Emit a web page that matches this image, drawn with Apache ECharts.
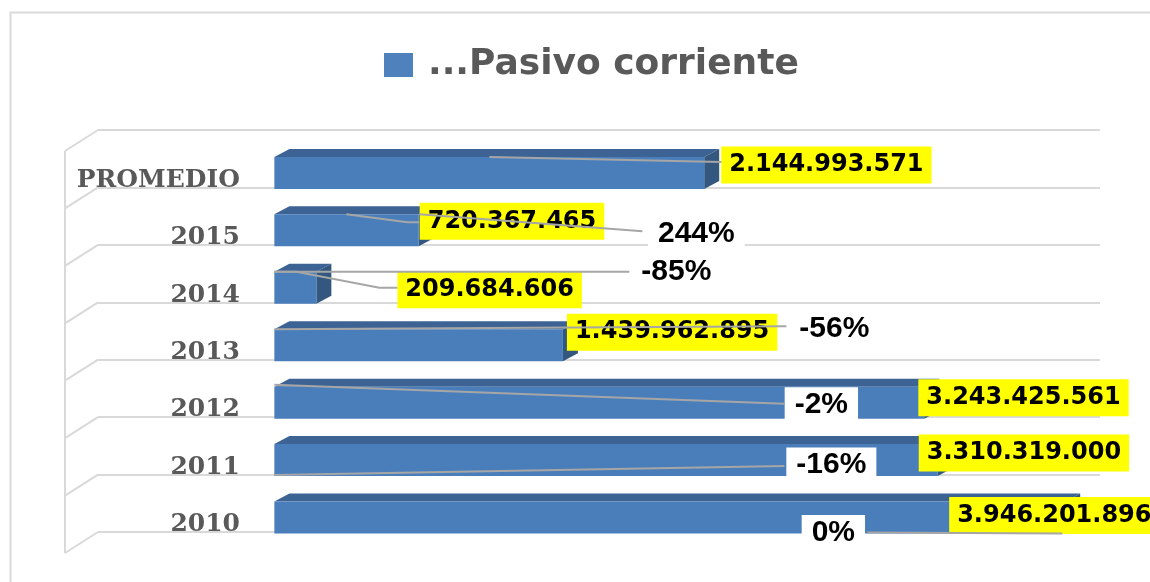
<!DOCTYPE html>
<html>
<head>
<meta charset="utf-8">
<script src="https://cdn.jsdelivr.net/npm/echarts@6/dist/echarts.min.js"></script>
<style>
  html, body { margin: 0; padding: 0; background: #fff; }
  #chart { width: 1150px; height: 582px; }
</style>
</head>
<body>
<div id="chart"></div>
<script>
// data, bottom row first
const categories = ['2010', '2011', '2012', '2013', '2014', '2015', 'PROMEDIO'];
const pasivo = [3946201896, 3310319000, 3243425561, 1439962895, 209684606, 720367465, 2144993571];
const valueLabels = ['3.946.201.896', '3.310.319.000', '3.243.425.561', '1.439.962.895',
  '209.684.606', '720.367.465', '2.144.993.571'];
const changeLabels = ['0%', '-16%', '-2%', '-56%', '-85%', '244%', ''];

// label placement (px, relative to the bar's left edge / top of front face)
const labelPos = [
  { val: [-116, 14], pct: [559, 31], lines: [[[593, 31], [788, 32]]] },
  { val: [-19, 9], pct: [557, 21], lines: [[[0, 31], [510, 22]]] },
  { val: [-6, 11], pct: [547, 18], lines: [[[0, -2], [510, 17]]] },
  { val: [4, 3], pct: [560, 0], lines: [[[0, 0], [512, -3]]] },
  { val: [81, 18], pct: [402, 0], lines: [[[0, 0], [22, 0], [105, 16], [123, 16]], [[0, 0], [355, 0]]] },
  { val: [1, 7], pct: [422, 19], lines: [[[72, 0], [133, 8], [145, 8]], [[145, 0], [368, 17]]] },
  { val: [17, 8], pct: null, lines: [[[215, 0], [447, 5]]] }
];

const BAR_H = 32;
const DX = 15, DY = -8;

const chart = echarts.init(document.getElementById('chart'));

function renderBar(params, api) {
  const i = api.value(0);
  const v = api.value(1);
  const base = api.coord([0, i]);
  const end = api.coord([v, i]);
  const band = api.size([0, 1])[1];
  const bottom = base[1] + band / 2 + 1.5;
  const top = bottom - BAR_H;
  const x0 = base[0], x1 = end[0];
  const pos = labelPos[i];
  const children = [
    { type: 'polygon', shape: { points: [[x0, top], [x0 + DX, top + DY], [x1 + DX, top + DY], [x1, top]] },
      style: { fill: '#3C6393' } },
    { type: 'polygon', shape: { points: [[x1, top], [x1 + DX, top + DY], [x1 + DX, bottom + DY], [x1, bottom]] },
      style: { fill: '#33577F' } },
    { type: 'rect', shape: { x: x0, y: top, width: x1 - x0, height: BAR_H },
      style: { fill: '#4A7EBB' } },
    { type: 'text', x: x1 + pos.val[0], y: top + pos.val[1],
      style: { text: valueLabels[i], fill: '#000', font: 'bold 24px "DejaVu Sans"',
        align: 'left', verticalAlign: 'middle', backgroundColor: '#FFFF00', padding: [7, 8, 6, 8] } }
  ];
  if (pos.pct) {
    children.push({ type: 'text', x: x0 + pos.pct[0], y: top + pos.pct[1],
      style: { text: changeLabels[i], fill: '#000', font: 'bold 30px "Liberation Sans"',
        align: 'center', verticalAlign: 'middle', backgroundColor: '#fff', padding: [3, 10, 2, 10] } });
  }
  pos.lines.forEach(function (pts) {
    children.push({ type: 'polyline',
      shape: { points: pts.map(function (p) { return [x0 + p[0], top + p[1]]; }) },
      style: { stroke: '#A6A6A6', lineWidth: 2, fill: null } });
  });
  return { type: 'group', children: children };
}

// left side wall of the 3D plot area
function renderWall(params, api) {
  const cs = params.coordSys;
  const n = categories.length;
  const lines = [{ type: 'line', shape: { x1: cs.x - 33, y1: cs.y + 21, x2: cs.x - 33, y2: cs.y + cs.height + 21 },
    style: { stroke: '#D9D9D9', lineWidth: 2 } }];
  for (let k = 0; k <= n; k++) {
    const y = cs.y + k * cs.height / n;
    lines.push({ type: 'line', shape: { x1: cs.x - 33, y1: y + 21, x2: cs.x, y2: y },
      style: { stroke: '#D9D9D9', lineWidth: 2 } });
  }
  return { type: 'group', children: lines };
}

const option = {
  animation: false,
  backgroundColor: '#fff',
  graphic: [{
    type: 'rect', left: 8, top: 10, shape: { width: 1160, height: 600 },
    style: { fill: null, stroke: '#D9D9D9', lineWidth: 2 }, silent: true
  }],
  legend: {
    data: ['...Pasivo corriente'],
    left: 379,
    top: 42,
    icon: 'rect',
    itemWidth: 29,
    itemHeight: 24,
    textStyle: { fontSize: 36, fontWeight: 'bold', fontFamily: 'DejaVu Sans', color: '#595959', padding: [0, 0, 0, 10] }
  },
  grid: { left: 98, right: 50, top: 130, bottom: 50, containLabel: false, outerBoundsMode: 'none' },
  xAxis: {
    type: 'value',
    min: -880000000,
    max: 4120000000,
    axisLabel: { show: false },
    axisLine: { show: false },
    axisTick: { show: false },
    splitLine: { show: false }
  },
  yAxis: {
    type: 'category',
    data: categories,
    axisLine: { show: false },
    axisTick: { show: false },
    axisLabel: {
      margin: -142,
      fontFamily: 'DejaVu Serif',
      fontWeight: 'bold',
      fontSize: 25,
      color: '#595959',
      align: 'right',
      verticalAlign: 'top',
      lineHeight: 43
    },
    splitLine: { show: true, lineStyle: { color: '#D9D9D9', width: 2 } }
  },
  series: [
    {
      type: 'custom',
      name: 'wall',
      silent: true,
      renderItem: renderWall,
      data: [[0, 0]],
      encode: { x: 1, y: 0 },
      z: 1
    },
    {
      type: 'custom',
      name: '...Pasivo corriente',
      itemStyle: { color: '#4F81BD' },
      renderItem: renderBar,
      data: pasivo.map(function (v, i) { return [i, v]; }),
      encode: { x: 1, y: 0 },
      z: 2
    }
  ]
};

chart.setOption(option);
</script>
</body>
</html>
